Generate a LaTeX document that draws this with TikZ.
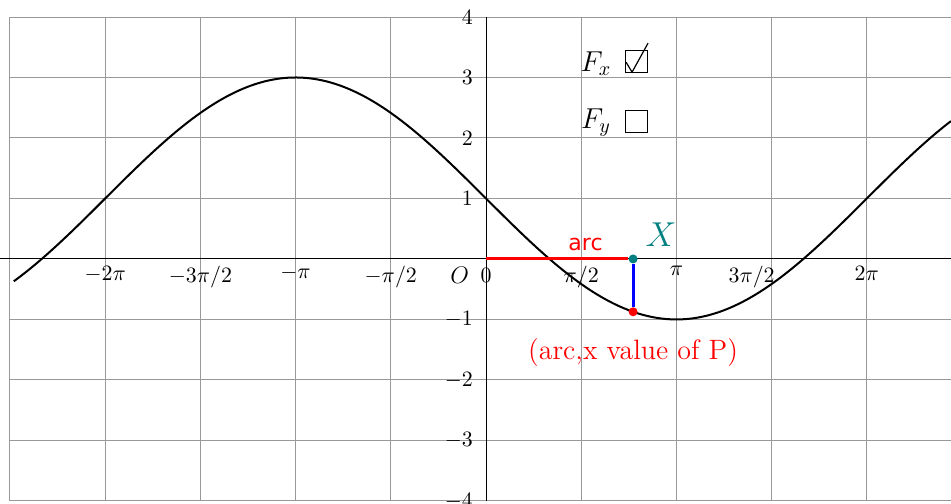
\documentclass[tikz,border=0pt]{standalone}
\usepackage{amsmath}
\usepackage{amssymb}
\usepackage{fontspec}
\newfontfamily\arcfont{DejaVu Sans}
\usetikzlibrary{positioning}

\begin{document}
\begin{tikzpicture}[x=1.673cm, y=1.063cm,
    ticklab/.style={font=\fontsize{11}{13}\selectfont},
    dotpt/.style={circle, inner sep=0pt, minimum size=4.5pt},
    chkbox/.style={draw, line width=0.5pt, minimum size=11pt, inner sep=0pt},
    flab/.style={font=\fontsize{14.5}{17}\selectfont},
    thickred/.style={line width=1.5pt}]

\useasboundingbox (-5.105,-4.05) rectangle (4.884,4.281);

\draw[gray!80, line width=0.5pt, step={(1,1)}] (-5,-4) grid (4.884,4);
\draw[line width=0.5pt] (-5.105,0)--(4.884,0);
\draw[line width=0.5pt] (0,-4)--(0,4);

\foreach \u/\lab in {-4/{-2\pi}, -3/{-3\pi/2}, -2/{-\pi}, -1/{-\pi/2}, 1/{\pi/2}, 2/{\pi}, 4/{2\pi}}
    \node[ticklab, below] (xt\u) at (\u,0) {$\lab$};
\node[ticklab, below] (xt3) at (2.79,0) {$3\pi/2$};
\node[ticklab, below, inner sep=4.5pt] (xt0) at (0,0) {$0$};
\node[font=\fontsize{13}{15}\selectfont, left=-2.5pt of xt0] (orig) {$O$};

\foreach \v in {-4,-3,-2,-1,1,2,3,4}
    \node[ticklab, left, xshift=-3pt] (yt\v) at (0,\v) {$\v$};

\draw[line width=1pt, domain=-4.96:4.884, samples=160, smooth]
    plot (\x, {1-2*sin(45*\x)});

\coordinate (orgn) at (0,0);
\node[dotpt, fill=teal] (X) at (1.545,0) {};
\node[dotpt, fill=red] (P) at (1.545,{1-2*sin(45*1.545)}) {};

\draw[red, thickred] (orgn)--(X) node[pos=0.7, above, font={\fontsize{11}{13}\arcfont}] (arclab) {arc};
\draw[blue, thickred] (X)--(P);

\node[above right=1pt and 1pt of X, text=teal, font=\fontsize{16}{18}\selectfont] (xlab) {$X$};
\node[below=7.5pt of P, text=red, font=\fontsize{14}{16}\selectfont] (plab) {(arc,x value of P)};

\node[flab] (fx) at (1.155,3.23) {$F_x$};
\node[chkbox] (bx) at (1.576,3.27) {};
\draw[line width=0.6pt] ([shift={(-5pt,-0.5pt)}]bx.center)--([shift={(-2pt,-5.5pt)}]bx.center)--([shift={(6pt,9pt)}]bx.center);

\node[flab] (fy) at (1.155,2.25) {$F_y$};
\node[chkbox] (by) at (1.576,2.28) {};

\end{tikzpicture}
\end{document}
